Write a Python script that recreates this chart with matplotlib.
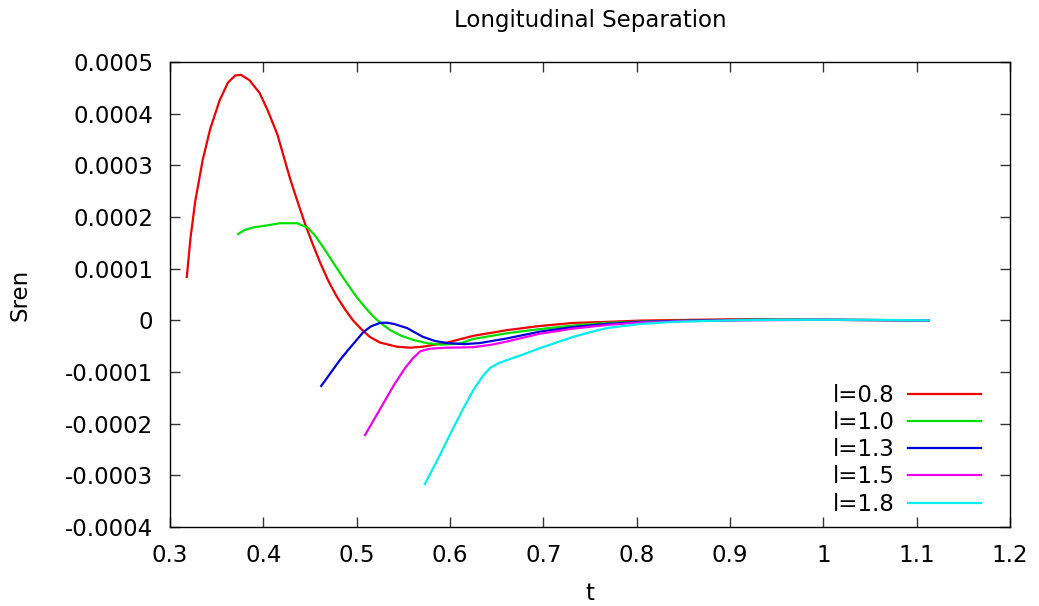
import matplotlib
matplotlib.use("Agg")
import matplotlib.pyplot as plt

labels = ["l=0.8", "l=1.0", "l=1.3", "l=1.5", "l=1.8"]
colors = ["#ee0000", "#00e000", "#0000dd", "#ee00ee", "#00eeee"]

t_08 = [0.318, 0.322, 0.327, 0.335, 0.343, 0.353, 0.362, 0.370, 0.376, 0.385, 0.396, 0.405,
        0.415, 0.429, 0.437, 0.445, 0.453, 0.461, 0.470, 0.479, 0.488, 0.496, 0.505, 0.514,
        0.525, 0.543, 0.557, 0.571, 0.597, 0.625, 0.661, 0.696, 0.732, 0.768, 0.804, 0.900,
        1.000, 1.113]
s_08 = [0.84, 1.60, 2.30, 3.10, 3.70, 4.25, 4.60, 4.74, 4.75, 4.65, 4.40, 4.05,
        3.60, 2.72, 2.28, 1.85, 1.47, 1.11, 0.75, 0.45, 0.20, 0.0, -0.17, -0.32,
        -0.43, -0.51, -0.53, -0.51, -0.43, -0.30, -0.19, -0.11, -0.05, -0.03, -0.005, 0.02,
        0.01, 0.0]

t_10 = [0.373, 0.380, 0.390, 0.405, 0.418, 0.436, 0.447, 0.455, 0.464, 0.473, 0.482, 0.491,
        0.500, 0.509, 0.518, 0.527, 0.536, 0.548, 0.561, 0.575, 0.590, 0.610, 0.625, 0.661,
        0.696, 0.732, 0.768, 0.810, 0.860, 0.920, 1.000, 1.113]
s_10 = [1.67, 1.75, 1.80, 1.84, 1.88, 1.88, 1.80, 1.65, 1.42, 1.17, 0.92, 0.68,
        0.45, 0.25, 0.07, -0.07, -0.19, -0.30, -0.38, -0.44, -0.47, -0.45, -0.36, -0.25,
        -0.17, -0.10, -0.05, -0.02, -0.005, 0.01, 0.01, 0.0]

t_13 = [0.462, 0.472, 0.482, 0.491, 0.500, 0.507, 0.515, 0.525, 0.532, 0.540, 0.554, 0.563,
        0.571, 0.584, 0.597, 0.615, 0.632, 0.661, 0.696, 0.732, 0.768, 0.804, 0.850, 0.920,
        1.000, 1.113]
s_13 = [-1.27, -1.02, -0.77, -0.57, -0.38, -0.23, -0.12, -0.05, -0.045, -0.07, -0.15, -0.24,
        -0.32, -0.40, -0.44, -0.46, -0.44, -0.35, -0.22, -0.13, -0.07, -0.03, -0.01, 0.01,
        0.01, 0.0]

t_15 = [0.509, 0.525, 0.540, 0.552, 0.560, 0.568, 0.578, 0.595, 0.625, 0.645, 0.661, 0.696,
        0.732, 0.768, 0.804, 0.850, 0.920, 1.000, 1.113]
s_15 = [-2.22, -1.72, -1.25, -0.92, -0.74, -0.60, -0.55, -0.53, -0.52, -0.47, -0.41, -0.26,
        -0.16, -0.09, -0.04, -0.015, 0.0, 0.01, 0.0]

t_18 = [0.573, 0.588, 0.603, 0.615, 0.625, 0.635, 0.643, 0.652, 0.661, 0.680, 0.696, 0.714,
        0.732, 0.750, 0.768, 0.804, 0.839, 0.900, 0.950, 1.050, 1.113]
s_18 = [-3.17, -2.65, -2.10, -1.68, -1.35, -1.08, -0.92, -0.83, -0.77, -0.65, -0.54, -0.43,
        -0.32, -0.23, -0.15, -0.07, -0.03, 0.0, 0.01, 0.01, 0.0]

series = [(t_08, s_08), (t_10, s_10), (t_13, s_13), (t_15, s_15), (t_18, s_18)]
scale = 1e-4

x_ticks = [0.3, 0.4, 0.5, 0.6, 0.7, 0.8, 0.9, 1.0, 1.1, 1.2]
x_tick_labels = ["0.3", "0.4", "0.5", "0.6", "0.7", "0.8", "0.9", "1", "1.1", "1.2"]
y_ticks = [-0.0004, -0.0003, -0.0002, -0.0001, 0.0, 0.0001, 0.0002, 0.0003, 0.0004, 0.0005]
y_tick_labels = ["-0.0004", "-0.0003", "-0.0002", "-0.0001", "0", "0.0001", "0.0002",
                 "0.0003", "0.0004", "0.0005"]

plt.rcParams['font.family'] = ['DejaVu Sans']
fig = plt.figure(figsize=(10.39, 6.06), dpi=100)
ax = fig.add_axes([170/1039, 79/606, 840/1039, 465/606])

for (t, s), c, lab in zip(series, colors, labels):
    ax.plot(t, [v * scale for v in s], color=c, lw=1.6, label=lab)

ax.set_xlim(0.3, 1.2)
ax.set_ylim(-0.0004, 0.0005)
ax.set_xticks(x_ticks)
ax.set_xticklabels(x_tick_labels)
ax.set_yticks(y_ticks)
ax.set_yticklabels(y_tick_labels)
ax.tick_params(direction='in', length=7, width=1, labelsize=16.5, top=True, right=True,
               pad=12, color='#333333')
for sp in ax.spines.values():
    sp.set_linewidth(1.0)
    sp.set_color('black')

ax.set_xlabel("t", fontsize=16.5, labelpad=11)
ax.set_ylabel("Sren", fontsize=16.5, labelpad=24)
ax.set_title("Longitudinal Separation", fontsize=16.5, pad=25)

leg = ax.legend(loc='lower right', frameon=False, markerfirst=False, fontsize=16.5,
                handlelength=3.2, labelspacing=0.18, handletextpad=0.55,
                borderaxespad=0.1, bbox_to_anchor=(0.979, 0.0))
for txt in leg.get_texts():
    txt.set_ha('right')

fig.savefig("out.png", dpi=100)
